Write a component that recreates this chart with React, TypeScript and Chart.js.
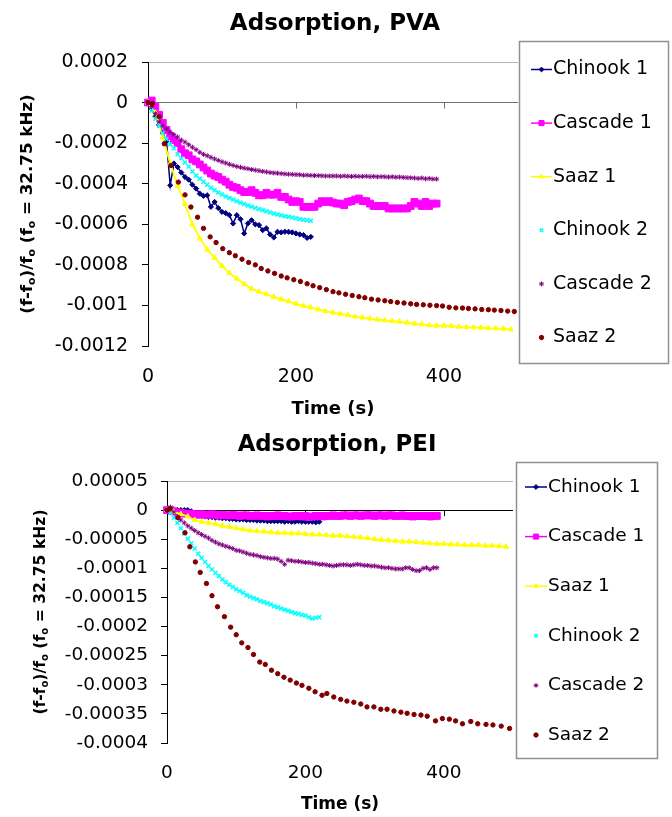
import React, { useEffect, useRef } from 'react';
import { Chart, registerables } from 'chart.js';
import { drawPoint } from 'chart.js/helpers';

Chart.register(...registerables);

const FONT = '"DejaVu Sans", "Liberation Sans", sans-serif';
Chart.defaults.font.family = FONT;
Chart.defaults.color = '#000';

// values are stored in units of 1e-6 (relative frequency shift)
const UNIT = 1e-6;

const SERIES_LABELS = ['Chinook 1', 'Cascade 1', 'Saaz 1', 'Chinook 2', 'Cascade 2', 'Saaz 2'];
const X_TICKS = [0, 200, 400];
const PVA_Y_TICKS = [0.0002, 0, -0.0002, -0.0004, -0.0006, -0.0008, -0.001, -0.0012];
const PEI_Y_TICKS = [0.00005, 0, -0.00005, -0.0001, -0.00015, -0.0002, -0.00025, -0.0003, -0.00035, -0.0004];

// time bases (s)
const T5 = [
  0, 5, 10, 15, 20, 25, 30, 35, 40, 45,
  50, 55, 60, 65, 70, 75, 80, 85, 90, 95,
  100, 105, 110, 115, 120, 125, 130, 135, 140, 145,
  150, 155, 160, 165, 170, 175, 180, 185, 190, 195,
  200, 205, 210, 215, 220, 225, 230, 235, 240, 245,
  250, 255, 260, 265, 270, 275, 280, 285, 290, 295,
  300, 305, 310, 315, 320, 325, 330, 335, 340, 345,
  350, 355, 360, 365, 370, 375, 380, 385, 390,
];
const T10 = [
  0, 10, 20, 30, 40, 50, 60, 70, 80, 90,
  100, 110, 120, 130, 140, 150, 160, 170, 180, 190,
  200, 210, 220, 230, 240, 250, 260, 270, 280, 290,
  300, 310, 320, 330, 340, 350, 360, 370, 380, 390,
  400, 410, 420, 430, 440, 450, 460, 470, 480, 490,
];
const PVA_SAAZ2_T = [
  0, 6, 15, 22, 31, 41, 50, 58, 67, 75,
  84, 92, 101, 110, 118, 127, 136, 145, 153, 162,
  171, 180, 188, 197, 206, 215, 223, 232, 241, 250,
  258, 267, 276, 285, 293, 302, 311, 320, 328, 337,
  346, 355, 363, 372, 381, 390, 398, 407, 416, 425,
  433, 442, 451, 460, 468, 477, 486, 495,
];
const PEI_SAAZ2_T = [
  0, 4, 16, 26, 33, 41, 48, 57, 65, 73,
  83, 92, 100, 108, 117, 125, 134, 142, 151, 160,
  169, 178, 187, 195, 205, 214, 224, 231, 241, 251,
  260, 270, 280, 289, 299, 309, 318, 328, 338, 347,
  357, 367, 376, 388, 398, 408, 417, 427, 439, 449,
  461, 471, 483, 495,
];

// ---------- PVA ----------
const PVA_CHINOOK1 = [
  0, -30, -70, -110, -150, -190, -408, -300, -318, -345,
  -367, -380, -405, -424, -449, -460, -457, -514, -490, -520,
  -539, -545, -555, -596, -555, -575, -645, -596, -580, -600,
  -604, -629, -620, -650, -665, -637, -640, -637, -637, -640,
  -645, -650, -653, -667, -662,
];
const PVA_CASCADE1 = [
  0, 10, -20, -60, -100, -135, -165, -185, -200, -230,
  -250, -260, -280, -290, -305, -320, -335, -350, -360, -367,
  -380, -390, -405, -416, -420, -432, -441, -441, -432, -445,
  -457, -457, -445, -454, -454, -445, -465, -465, -478, -490,
  -486, -490, -514, -514, -514, -514, -498, -486, -490, -486,
  -493, -498, -498, -506, -490, -486, -478, -473, -486, -486,
  -498, -510, -510, -510, -510, -522, -522, -522, -522, -522,
  -522, -510, -490, -498, -510, -490, -510, -498, -498,
];
const PVA_SAAZ1 = [
  0, -50, -170, -300, -410, -500, -600, -670, -725, -765,
  -805, -840, -868, -895, -918, -932, -945, -958, -970, -980,
  -992, -1002, -1010, -1020, -1028, -1035, -1042, -1048, -1055, -1060,
  -1065, -1070, -1073, -1077, -1080, -1085, -1090, -1093, -1098, -1100,
  -1100, -1102, -1105, -1107, -1108, -1110, -1112, -1113, -1115, -1118,
];
const PVA_CHINOOK2 = [
  0, -40, -80, -115, -150, -180, -205, -225, -255, -275,
  -295, -315, -340, -360, -375, -390, -405, -420, -432, -443,
  -453, -463, -470, -478, -486, -494, -500, -507, -513, -520,
  -525, -530, -536, -542, -547, -552, -556, -560, -563, -567,
  -570, -574, -578, -580, -583,
];
const PVA_CASCADE2 = [
  0, -20, -55, -95, -115, -130, -145, -158, -170, -185,
  -195, -208, -220, -232, -245, -255, -262, -270, -278, -285,
  -292, -298, -304, -310, -315, -319, -323, -326, -330, -333,
  -336, -339, -342, -345, -347, -348, -350, -352, -353, -354,
  -355, -356, -358, -358, -359, -360, -360, -361, -362, -362,
  -362, -362, -363, -362, -363, -364, -363, -364, -364, -363,
  -365, -364, -366, -365, -366, -367, -366, -368, -367, -369,
  -370, -371, -372, -374, -372, -376, -374, -377, -377,
];
const PVA_SAAZ2 = [
  0, -5, -69, -203, -310, -392, -455, -515, -565, -620,
  -662, -690, -720, -740, -755, -772, -788, -800, -818, -830,
  -842, -855, -864, -873, -882, -893, -903, -912, -922, -932,
  -938, -945, -951, -957, -962, -969, -973, -977, -981, -985,
  -988, -992, -995, -997, -999, -1001, -1003, -1009, -1012, -1013,
  -1015, -1017, -1020, -1021, -1023, -1025, -1028, -1030,
];

// ---------- PEI ----------
const PEI_CHINOOK1 = [
  0, 0, 0, 0, 0, 0, 0, -2, -5, -8,
  -10, -11, -12, -12, -13, -13, -14, -14, -15, -15,
  -16, -16, -16, -17, -17, -17, -18, -18, -18, -19,
  -19, -19, -19, -19, -20, -19, -20, -20, -19, -20,
  -20, -20, -20, -21, -20,
];
const PEI_CASCADE1 = [
  0, 0, -2, -4, -5, -6, -6, -7, -7, -8,
  -7, -8, -8, -7, -8, -9, -8, -9, -9, -8,
  -9, -10, -9, -9, -10, -10, -9, -10, -10, -11,
  -10, -10, -9, -10, -10, -11, -11, -10, -10, -11,
  -10, -12, -11, -10, -10, -11, -10, -10, -9, -10,
  -10, -9, -9, -10, -9, -9, -10, -9, -9, -9,
  -10, -9, -9, -10, -9, -9, -10, -10, -9, -10,
  -10, -11, -10, -10, -10, -10, -11, -10, -10,
];
const PEI_SAAZ1 = [
  0, -3, -7, -11, -17, -20, -22, -24, -27, -29,
  -31, -33, -35, -36, -37, -38, -39, -39, -40, -40,
  -41, -42, -42, -43, -44, -44, -45, -46, -47, -48,
  -50, -51, -52, -53, -54, -54, -55, -56, -57, -58,
  -58, -59, -59, -60, -60, -60, -61, -61, -62, -63,
];
const PEI_CHINOOK2 = [
  0, -5, -13, -22, -31, -40, -49, -57, -66, -75,
  -82, -89, -96, -102, -108, -113, -119, -124, -128, -132,
  -136, -139, -142, -146, -149, -151, -153, -156, -158, -160,
  -162, -165, -167, -169, -171, -173, -175, -177, -178, -180,
  -181, -184, -186, -185, -184,
];
const PEI_CASCADE2 = [
  0, 5, -3, -12, -17, -22, -27, -31, -35, -39,
  -42, -45, -48, -52, -55, -58, -60, -62, -64, -66,
  -69, -70, -72, -74, -76, -77, -78, -80, -81, -82,
  -83, -83, -84, -88, -93, -86, -87, -88, -88, -89,
  -90, -90, -91, -92, -93, -93, -94, -95, -96, -95,
  -94, -94, -94, -95, -94, -93, -94, -95, -95, -96,
  -96, -97, -98, -99, -99, -100, -101, -101, -101, -99,
  -99, -102, -104, -104, -100, -99, -102, -99, -99,
];
const PEI_SAAZ2 = [
  0, 2, -13, -39, -63, -89, -107, -126, -147, -166,
  -183, -201, -214, -228, -236, -248, -261, -265, -275, -281,
  -287, -292, -297, -301, -306, -312, -318, -315, -321, -325,
  -328, -330, -333, -338, -338, -342, -342, -345, -347, -349,
  -351, -352, -354, -362, -358, -359, -362, -367, -363, -367,
  -368, -369, -371, -375,
];

const STYLES = [
  { color: '#000080', pointStyle: 'rectRot', radius: 2.6, line: 1.5, pbw: 1 },
  { color: '#FF00FF', pointStyle: 'rect', radius: 4.8, line: 2.5, pbw: 1 },
  { color: '#FFFF00', pointStyle: 'triangle', radius: 3, line: 1.8, pbw: 1 },
  { color: '#00FFFF', pointStyle: 'crossRot', radius: 2.8, line: 0, pbw: 1.5 },
  { color: '#800080', pointStyle: 'star', radius: 2.5, line: 0, pbw: 1 },
  { color: '#800000', pointStyle: 'circle', radius: 2.2, line: 0, pbw: 1 },
];

const fmt = (v: number) => {
  const n = Math.round(v * 1e8) / 1e8;
  return n === 0 ? '0' : String(n);
};

type Spec = any;

const PVA_SPEC: Spec = {
  title: 'Adsorption, PVA', titleX: 335, titleY: 24, titleSize: 23,
  height: 420, left: 148, right: 518, top: 62, xAxisHeight: 74,
  yTicks: PVA_Y_TICKS, yMin: -0.0012, yMax: 0.0002,
  tickSize: 19, yTickPad: 14, xTickPad: 20, xTitleSize: 18, xTitlePadBottom: 0,
  yTitleX: 28, yTitleSize: 16.7, zeroColor: '#707070',
  legend: { x: 519, y: 41, w: 149, h: 322, first: 28.5, step: 53.6, lx1: 531, lx2: 552, mx: 541.5, tx: 553, fontSize: 19 },
  series: [
    { t: T5, v: PVA_CHINOOK1 },
    { t: T5, v: PVA_CASCADE1 },
    { t: T10, v: PVA_SAAZ1 },
    { t: T5, v: PVA_CHINOOK2 },
    { t: T5, v: PVA_CASCADE2 },
    { t: PVA_SAAZ2_T, v: PVA_SAAZ2 },
  ],
};

const PEI_SPEC: Spec = {
  title: 'Adsorption, PEI', titleX: 337, titleY: 25, titleSize: 22.8,
  height: 397, left: 167, right: 513, top: 61, xAxisHeight: 74,
  yTicks: PEI_Y_TICKS, yMin: -0.0004, yMax: 0.00005,
  tickSize: 18.5, yTickPad: 13, xTickPad: 19, xTitleSize: 17, xTitlePadBottom: 2.5,
  yTitleX: 41, yTitleSize: 15.6, zeroColor: '#000000',
  legend: { x: 516, y: 42, w: 141, h: 296, first: 25, step: 49.6, lx1: 525, lx2: 547, mx: 536, tx: 548, fontSize: 18.5 },
  series: [
    { t: T5, v: PEI_CHINOOK1 },
    { t: T5, v: PEI_CASCADE1 },
    { t: T10, v: PEI_SAAZ1 },
    { t: T5, v: PEI_CHINOOK2 },
    { t: T5, v: PEI_CASCADE2 },
    { t: PEI_SAAZ2_T, v: PEI_SAAZ2 },
  ],
};

function makeDecor(spec: Spec) {
  return {
    id: 'panelDecor',
    beforeDatasetsDraw(chart: any) {
      const { ctx } = chart;
      const xs = chart.scales.x;
      const ys = chart.scales.y;
      const y0 = ys.getPixelForValue(0);
      ctx.save();
      ctx.strokeStyle = spec.zeroColor;
      ctx.lineWidth = 1;
      for (const v of X_TICKS) {
        if (v === 0) continue;
        const x = Math.round(xs.getPixelForValue(v)) + 0.5;
        ctx.beginPath();
        ctx.moveTo(x, y0);
        ctx.lineTo(x, y0 + 6);
        ctx.stroke();
      }
      ctx.restore();
    },
    afterDraw(chart: any) {
      const { ctx, chartArea } = chart;
      ctx.save();
      // chart title
      ctx.fillStyle = '#000';
      ctx.textAlign = 'center';
      ctx.textBaseline = 'middle';
      ctx.font = `bold ${spec.titleSize}px ${FONT}`;
      ctx.fillText(spec.title, spec.titleX, spec.titleY);

      // y-axis title with subscripts
      const size = spec.yTitleSize;
      const subSize = size * 0.65;
      const segs: [string, boolean][] = [
        ['(f-f', false], ['o', true], [')/f', false], ['o', true], [' (f', false], ['o', true], [' = 32.75 kHz)', false],
      ];
      const mainFont = `bold ${size}px ${FONT}`;
      const subFont = `bold ${subSize}px ${FONT}`;
      let total = 0;
      const widths = segs.map(([s, sub]) => {
        ctx.font = sub ? subFont : mainFont;
        const w = ctx.measureText(s).width;
        total += w;
        return w;
      });
      ctx.translate(spec.yTitleX, (chartArea.top + chartArea.bottom) / 2);
      ctx.rotate(-Math.PI / 2);
      ctx.textAlign = 'left';
      let cx = -total / 2;
      segs.forEach(([s, sub], i) => {
        ctx.font = sub ? subFont : mainFont;
        ctx.fillText(s, cx, sub ? size * 0.27 : 0);
        cx += widths[i];
      });
      ctx.restore();

      // legend
      const L = spec.legend;
      ctx.save();
      ctx.fillStyle = '#fff';
      ctx.fillRect(L.x, L.y, L.w, L.h);
      ctx.strokeStyle = '#909090';
      ctx.lineWidth = 1.5;
      ctx.strokeRect(L.x + 0.5, L.y + 0.5, L.w, L.h);
      chart.data.datasets.forEach((ds: any, i: number) => {
        const cy = L.y + L.first + i * L.step;
        const st = STYLES[i];
        if (st.line > 0) {
          ctx.strokeStyle = st.color;
          ctx.lineWidth = Math.min(st.line, 1.5);
          ctx.beginPath();
          ctx.moveTo(L.lx1, cy);
          ctx.lineTo(L.lx2, cy);
          ctx.stroke();
        }
        ctx.fillStyle = st.color;
        ctx.strokeStyle = st.color;
        ctx.lineWidth = st.pbw;
        const r = i === 1 ? 3.6 : Math.min(st.radius, 2.4);
        drawPoint(ctx, { pointStyle: st.pointStyle, radius: r, borderWidth: st.pbw, rotation: 0 } as any, L.mx, cy);
        ctx.fillStyle = '#000';
        ctx.font = `${L.fontSize}px ${FONT}`;
        ctx.textAlign = 'left';
        ctx.textBaseline = 'middle';
        ctx.fillText(ds.label, L.tx, cy);
      });
      ctx.restore();
    },
  };
}

function buildConfig(spec: Spec): any {
  const datasets = spec.series.map((s: any, i: number) => {
    const st = STYLES[i];
    return {
      label: SERIES_LABELS[i],
      data: s.v.map((v: number, j: number) => ({ x: s.t[j], y: v * UNIT })),
      showLine: st.line > 0,
      borderColor: st.color,
      backgroundColor: st.color,
      borderWidth: st.line > 0 ? st.line : 1,
      pointStyle: st.pointStyle,
      pointRadius: st.radius,
      pointHoverRadius: st.radius,
      pointBorderWidth: st.pbw,
      pointBackgroundColor: st.color,
      pointBorderColor: st.color,
      tension: 0,
      clip: false,
      order: 5 - i,
    };
  });
  const isZero = (v: number) => Math.abs(v) < 1e-12;
  return {
    type: 'scatter',
    data: { datasets },
    options: {
      animation: false,
      responsive: false,
      maintainAspectRatio: false,
      events: [],
      layout: { padding: { left: 0, right: 672 - spec.right, top: spec.top, bottom: 0 } },
      plugins: {
        legend: { display: false },
        tooltip: { enabled: false },
        title: { display: false },
      },
      scales: {
        x: {
          type: 'linear',
          position: 'bottom',
          min: 0,
          max: 500,
          afterBuildTicks: (s: any) => { s.ticks = X_TICKS.map((v) => ({ value: v })); },
          afterFit: (s: any) => { s.height = spec.xAxisHeight; },
          grid: { display: false, drawTicks: false },
          border: { display: false },
          ticks: {
            padding: spec.xTickPad,
            color: '#000',
            maxRotation: 0,
            font: { family: FONT, size: spec.tickSize },
            callback: (v: any) => String(v),
          },
          title: {
            display: true,
            text: 'Time (s)',
            color: '#000',
            font: { family: FONT, size: spec.xTitleSize, weight: 'bold', lineHeight: 1.2 },
            padding: { top: 0, bottom: spec.xTitlePadBottom },
          },
        },
        y: {
          type: 'linear',
          min: spec.yMin,
          max: spec.yMax,
          afterBuildTicks: (s: any) => { s.ticks = spec.yTicks.map((v: number) => ({ value: v })); },
          afterFit: (s: any) => { s.width = spec.left; },
          grid: {
            drawTicks: true,
            tickLength: 6,
            tickColor: '#000',
            lineWidth: 1,
            color: (c: any) => {
              const v = c.tick ? c.tick.value : NaN;
              if (isZero(v)) return spec.zeroColor;
              if (Math.abs(v - spec.yMax) < 1e-12) return '#b4b4b4';
              return 'rgba(0,0,0,0)';
            },
          },
          border: { display: true, color: '#000', width: 1 },
          ticks: {
            padding: spec.yTickPad,
            color: '#000',
            font: { family: FONT, size: spec.tickSize },
            callback: (v: any) => fmt(Number(v)),
          },
          title: { display: false },
        },
      },
    },
    plugins: [makeDecor(spec)],
  };
}

function Panel({ spec, top }: { spec: Spec; top: number }) {
  const ref = useRef<HTMLCanvasElement>(null);
  useEffect(() => {
    const chart = new Chart(ref.current as HTMLCanvasElement, buildConfig(spec));
    return () => chart.destroy();
  }, [spec]);
  return (
    <canvas
      ref={ref}
      width={672}
      height={spec.height}
      style={{ position: 'absolute', left: 0, top, width: 672, height: spec.height, display: 'block' }}
    />
  );
}

export default function App() {
  return (
    <div style={{ position: 'absolute', left: 0, top: 0, width: 672, height: 817, background: '#fff', overflow: 'hidden' }}>
      <Panel spec={PVA_SPEC} top={0} />
      <Panel spec={PEI_SPEC} top={420} />
    </div>
  );
}
